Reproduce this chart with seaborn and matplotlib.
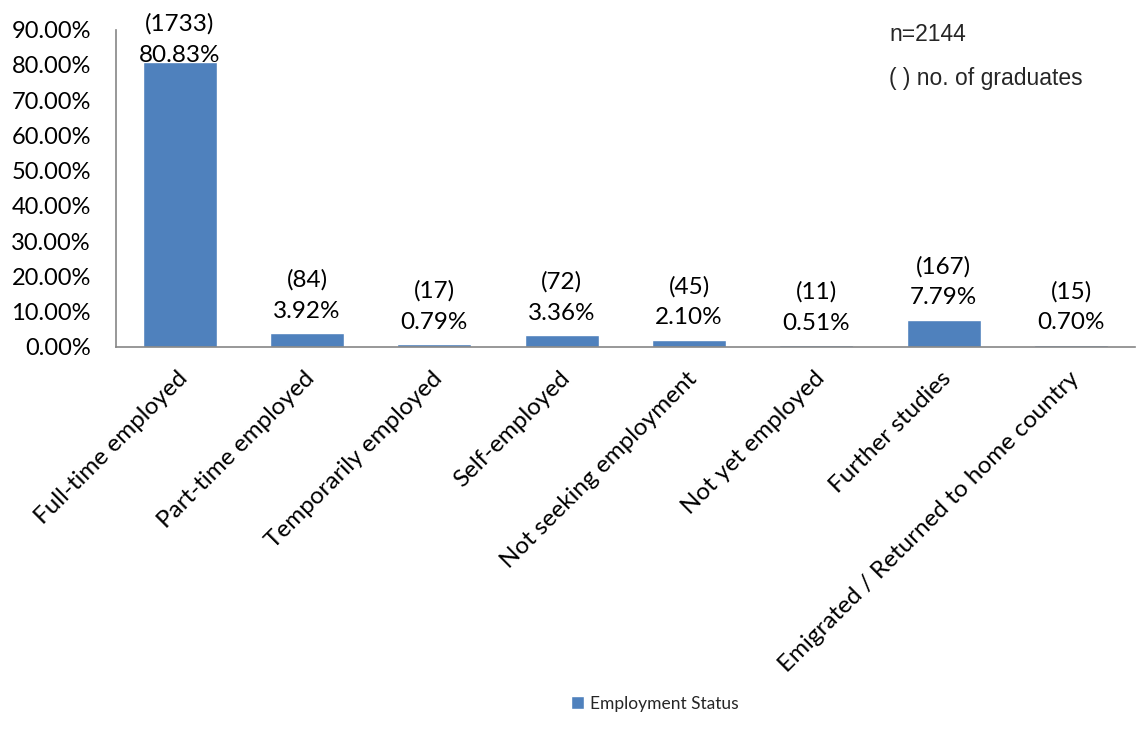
import matplotlib
matplotlib.use("Agg")
import matplotlib.pyplot as plt
import matplotlib.transforms as mtransforms
import seaborn as sns
import pandas as pd
from matplotlib.ticker import FuncFormatter, MultipleLocator

categories = ["Full-time employed", "Part-time employed", "Temporarily employed",
              "Self-employed", "Not seeking employment", "Not yet employed",
              "Further studies", "Emigrated / Returned to home country"]
percent = [80.83, 3.92, 0.79, 3.36, 2.10, 0.51, 7.79, 0.70]
counts = [1733, 84, 17, 72, 45, 11, 167, 15]
series_name = "Employment Status"

sns.set_theme(style="white")
plt.rcParams['font.family'] = ['Lato', 'DejaVu Sans']

df = pd.DataFrame({"cat": categories, "pct": percent, "series": series_name})

fig = plt.figure(figsize=(11.37, 7.43), dpi=100)
ax = fig.add_axes([0.102, 0.533, 0.896, 0.427])
sns.barplot(data=df, x="cat", y="pct", hue="series", palette=["#4F81BD"],
            width=0.58, ax=ax, saturation=1, legend=True)

ax.set_ylim(0, 90)
ax.yaxis.set_major_locator(MultipleLocator(10))
ax.yaxis.set_major_formatter(FuncFormatter(lambda v, p: f"{v:.2f}%"))
ax.tick_params(axis='y', labelsize=17, length=0, pad=18, labelcolor="black")
ax.tick_params(axis='x', labelsize=17.5, length=0, pad=15, labelcolor="black")
ax.set_xlabel("")
ax.set_ylabel("")
shift = mtransforms.ScaledTranslation(-3 / 100, 0, fig.dpi_scale_trans)
for lbl in ax.get_xticklabels():
    lbl.set_rotation(45)
    lbl.set_ha('right')
    lbl.set_rotation_mode('anchor')
    lbl.set_transform(lbl.get_transform() + shift)

for s in ["top", "right"]:
    ax.spines[s].set_visible(False)
for s in ["left", "bottom"]:
    ax.spines[s].set_color("#868686")
    ax.spines[s].set_linewidth(1.2)

for i, (p, c) in enumerate(zip(percent, counts)):
    off = 8 if p < 70 else -3
    ax.annotate(f"({c})\n{p:.2f}%", xy=(i, p), xytext=(0, off), textcoords="offset points",
                ha="center", va="bottom", fontsize=17.5, linespacing=1.6,
                color="black", annotation_clip=False)

fig.text(0.782, 0.953, "n=2144", fontsize=16.5, family="Liberation Sans", va="center")
fig.text(0.782, 0.894, "( ) no. of graduates", fontsize=16.5, family="Liberation Sans", va="center")

leg = ax.legend(loc="center", bbox_to_anchor=(0.576, 0.053), bbox_transform=fig.transFigure,
                frameon=False, fontsize=12.5, handlelength=0.75, handleheight=0.75, handletextpad=0.35)

fig.savefig("out.png", dpi=100)
